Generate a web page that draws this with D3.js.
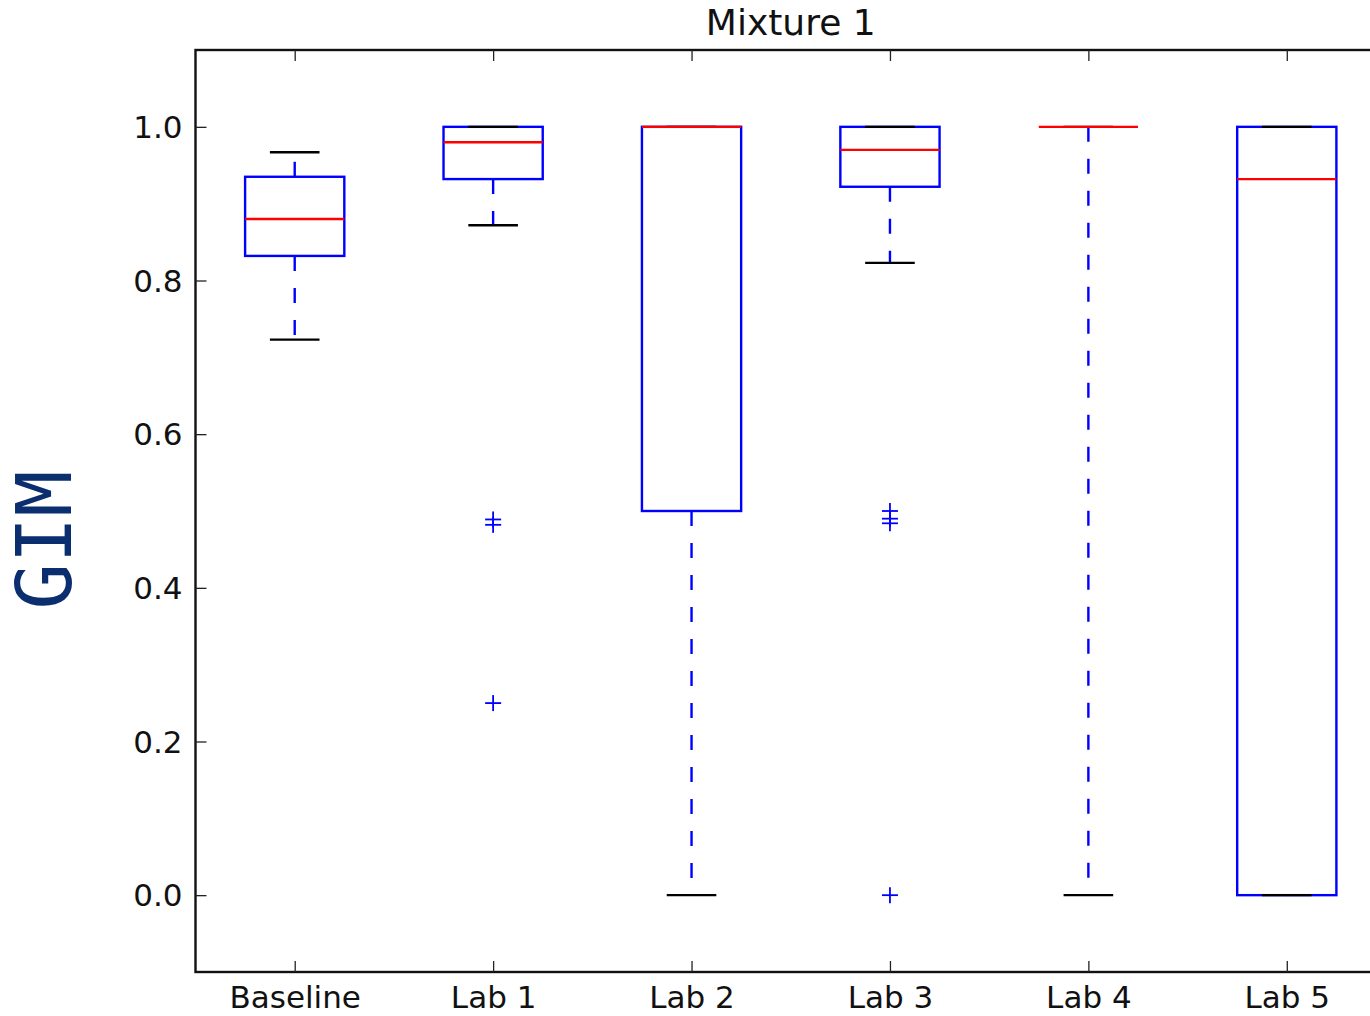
<!DOCTYPE html>
<html><head><meta charset="utf-8">
<script src="https://cdn.jsdelivr.net/npm/d3@7"></script>
<style>
html,body{margin:0;padding:0;background:#fff;overflow:hidden}
svg{display:block}
</style></head>
<body>
<script>
const categories = ["Baseline", "Lab 1", "Lab 2", "Lab 3", "Lab 4", "Lab 5"];
const whiskerLow  = [0.723, 0.872, 0.0, 0.823, 0.0, 0.0];
const q1          = [0.832, 0.932, 0.5, 0.922, 1.0, 0.0];
const medians     = [0.880, 0.980, 1.0, 0.970, 1.0, 0.932];
const q3          = [0.935, 1.0, 1.0, 1.0, 1.0, 1.0];
const whiskerHigh = [0.967, 1.0, 1.0, 1.0, 1.0, 1.0];
const outliers    = [[], [0.489, 0.482, 0.250], [], [0.500, 0.490, 0.484, 0.0], [], []];
const yTicks = [0.0, 0.2, 0.4, 0.6, 0.8, 1.0];
const yTickLabels = ["0.0", "0.2", "0.4", "0.6", "0.8", "1.0"];
const titleText = "Mixture 1";
const yLabelText = "GIM";

const W = 1370, H = 1016;
const L = 195.5, R = 1386, T = 50, B = 972;
const svg = d3.select("body").append("svg").attr("width", W).attr("height", H);

const x = d3.scaleLinear().domain([0.5, categories.length + 0.5]).range([L, R]);
const y = d3.scaleLinear().domain([-0.1, 1.1]).range([B, T]);
const boxW = x(1.25) - x(1);   // half width
const capW = x(1.125) - x(1);

const font = "'DejaVu Sans', sans-serif";
const data = categories.map((c, i) => ({c, i: i + 1, lo: whiskerLow[i], q1: q1[i], med: medians[i], q3: q3[i], hi: whiskerHigh[i], out: outliers[i]}));

const g = svg.append("g");

// boxes
g.selectAll(".box").data(data).join("rect")
  .attr("x", d => x(d.i) - boxW).attr("width", 2 * boxW)
  .attr("y", d => y(d.q3)).attr("height", d => y(d.q1) - y(d.q3))
  .attr("fill", "none").attr("stroke", "#0000ff").attr("stroke-width", 2.4);

// whiskers (dashed)
g.selectAll(".wlo").data(data).join("line")
  .attr("x1", d => x(d.i)).attr("x2", d => x(d.i))
  .attr("y1", d => y(d.q1)).attr("y2", d => y(d.lo))
  .attr("stroke", "#0000ff").attr("stroke-width", 2.4).attr("stroke-dasharray", "15,17");
g.selectAll(".whi").data(data).join("line")
  .attr("x1", d => x(d.i)).attr("x2", d => x(d.i))
  .attr("y1", d => y(d.q3)).attr("y2", d => y(d.hi))
  .attr("stroke", "#0000ff").attr("stroke-width", 2.4).attr("stroke-dasharray", "15,17");

// caps
["lo", "hi"].forEach(k => {
  g.selectAll(".cap" + k).data(data).join("line")
    .attr("x1", d => x(d.i) - capW).attr("x2", d => x(d.i) + capW)
    .attr("y1", d => y(d[k])).attr("y2", d => y(d[k]))
    .attr("stroke", "#000").attr("stroke-width", 2.4);
});

// medians
g.selectAll(".med").data(data).join("line")
  .attr("x1", d => x(d.i) - boxW).attr("x2", d => x(d.i) + boxW)
  .attr("y1", d => y(d.med)).attr("y2", d => y(d.med))
  .attr("stroke", "#ff0000").attr("stroke-width", 2.4);

// outliers
const fl = data.flatMap(d => d.out.map(v => ({i: d.i, v})));
const ms = 8;
const fg = g.selectAll(".fl").data(fl).join("g")
  .attr("transform", d => `translate(${x(d.i)},${y(d.v)})`);
fg.append("line").attr("x1", -ms).attr("x2", ms).attr("y1", 0).attr("y2", 0).attr("stroke", "#0000ff").attr("stroke-width", 1.8);
fg.append("line").attr("x1", 0).attr("x2", 0).attr("y1", -ms).attr("y2", ms).attr("stroke", "#0000ff").attr("stroke-width", 1.8);

// axes frame
const ax = svg.append("g");
ax.append("rect").attr("x", L).attr("y", T).attr("width", R - L).attr("height", B - T)
  .attr("fill", "none").attr("stroke", "#111").attr("stroke-width", 2.4);

// ticks: left (inside)
const yAxis = d3.axisLeft(y).tickValues(yTicks).tickFormat((d, i) => yTickLabels[i]).tickSizeInner(-11).tickSizeOuter(0).tickPadding(13);
const ya = ax.append("g").attr("transform", `translate(${L},0)`).call(yAxis);
ya.select(".domain").remove();
ya.selectAll("line").attr("stroke", "#222").attr("stroke-width", 1.3);
ya.selectAll("text").attr("font-family", font).attr("font-size", 31).attr("fill", "#111").attr("dy", "0.34em");

// bottom ticks (inside)
const xAxis = d3.axisBottom(x).tickValues(d3.range(1, categories.length + 1)).tickFormat(d => categories[d - 1]).tickSizeInner(-11).tickSizeOuter(0).tickPadding(14);
const xa = ax.append("g").attr("transform", `translate(0,${B})`).call(xAxis);
xa.select(".domain").remove();
xa.selectAll("line").attr("stroke", "#222").attr("stroke-width", 1.3);
xa.selectAll("text").attr("font-family", font).attr("font-size", 31).attr("fill", "#111");

// top ticks (inside)
const xTop = d3.axisTop(x).tickValues(d3.range(1, categories.length + 1)).tickFormat("").tickSizeInner(-11).tickSizeOuter(0);
const xt = ax.append("g").attr("transform", `translate(0,${T})`).call(xTop);
xt.select(".domain").remove();
xt.selectAll("line").attr("stroke", "#222").attr("stroke-width", 1.3);

// title
svg.append("text").attr("x", (L + R) / 2).attr("y", 35).attr("text-anchor", "middle")
  .attr("font-family", font).attr("font-size", 36).attr("fill", "#111").text(titleText);

// y label
svg.append("text").attr("transform", `translate(71,540) rotate(-90)`).attr("text-anchor", "middle")
  .attr("font-family", "'DejaVu Sans Mono', monospace").attr("font-size", 77).attr("fill", "#0a2e6e").text(yLabelText);
</script>
</body></html>
